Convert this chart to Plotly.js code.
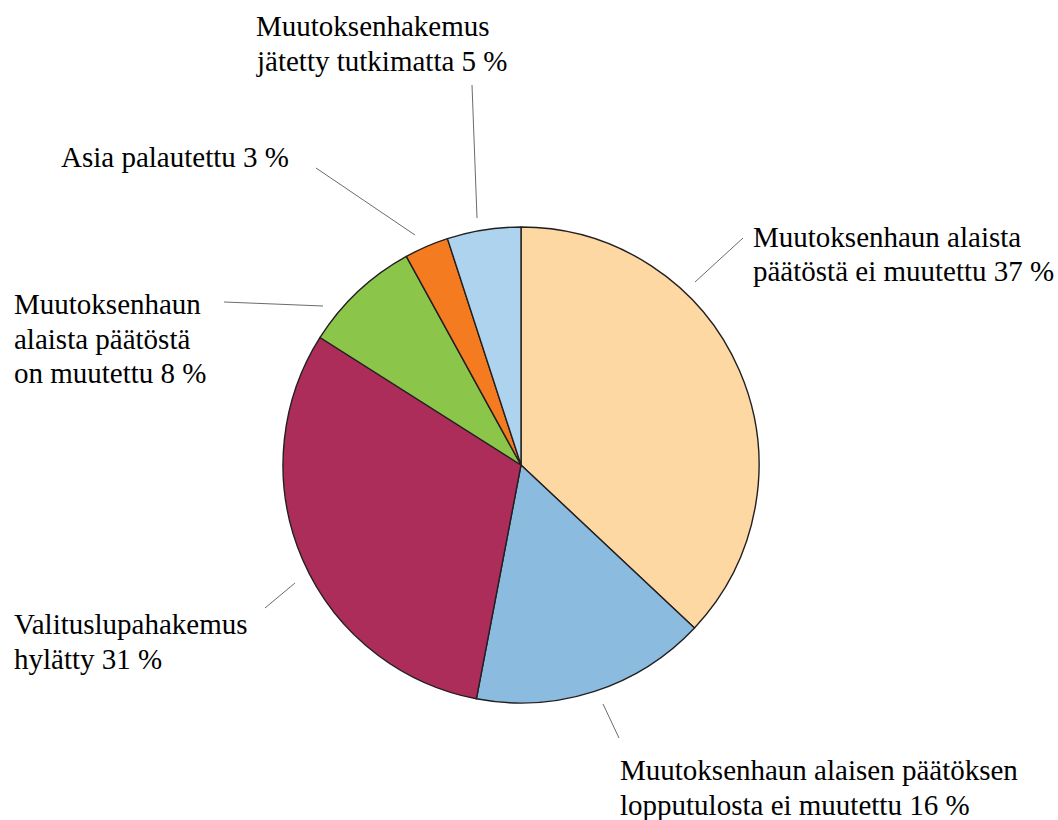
<!DOCTYPE html>
<html>
<head>
<meta charset="utf-8">
<script src="https://cdn.plot.ly/plotly-3.0.1.min.js"></script>
<style>
  html, body { margin: 0; padding: 0; background: #ffffff; }
  #chart { width: 1058px; height: 820px; }
</style>
</head>
<body>
<div id="chart"></div>
<script>
// ---- data ----
var categories = [
  "Muutoksenhaun alaista\npäätöstä ei muutettu",
  "Muutoksenhaun alaisen päätöksen\nlopputulosta ei muutettu",
  "Valituslupahakemus\nhylätty",
  "Muutoksenhaun\nalaista päätöstä\non muutettu",
  "Asia palautettu",
  "Muutoksenhakemus\njätetty tutkimatta"
];
var shares = [37, 16, 31, 8, 3, 5];
var sliceColors = ["#FDD8A2", "#8BBCDF", "#AC2D59", "#8BC64B", "#F47B20", "#ADD3EF"];

// ---- layout helpers (pixel positions of labels / leader lines) ----
var W = 1058, H = 820;
var FONT = "Liberation Serif";
var FS = 29;
var LINE_GAP = 34.5;           // baseline-to-baseline distance
var ASC = 27;                  // box top to first baseline
var center = {x: 521, y: 465}, radius = 238;
// label: left x, baseline of first line; leader line: [x0,y0,x1,y1]
var labelPos = [
  {x: 751, base: 246, lead: [695, 282, 743, 238]},
  {x: 618, base: 779, lead: [603, 704, 619, 738]},
  {x: 12,  base: 633, lead: [265, 608, 295, 583]},
  {x: 12,  base: 313, lead: [224, 302, 323, 306]},
  {x: 59,  base: 166, lead: [316, 168, 415, 235]},
  {x: 254, base: 35,  lead: [472, 85, 477, 218]}
];

function px(x) { return x / W; }
function py(y) { return 1 - y / H; }

var annotations = [], shapes = [];
categories.forEach(function (c, i) {
  var lines = c.split("\n");
  lines[lines.length - 1] += " " + shares[i] + " %";
  var p = labelPos[i];
  lines.forEach(function (ln, k) {
    annotations.push({
      xref: "paper", yref: "paper",
      x: px(p.x), y: py(p.base + k * LINE_GAP - ASC),
      xanchor: "left", yanchor: "top", align: "left",
      showarrow: false, text: ln,
      font: {family: FONT, size: FS, color: "#000000"}
    });
  });
  shapes.push({
    type: "line", xref: "paper", yref: "paper",
    x0: px(p.lead[0]), y0: py(p.lead[1]), x1: px(p.lead[2]), y1: py(p.lead[3]),
    line: {color: "#6b6b6b", width: 1}
  });
});

var trace = {
  type: "pie",
  labels: categories,
  values: shares,
  sort: false,
  direction: "clockwise",
  rotation: 0,
  textinfo: "none",
  hoverinfo: "label+percent",
  marker: {colors: sliceColors, line: {color: "#231F20", width: 1.4}},
  domain: {
    x: [px(center.x - radius), px(center.x + radius)],
    y: [py(center.y + radius), py(center.y - radius)]
  },
  showlegend: false
};

var layout = {
  width: W, height: H,
  margin: {l: 0, r: 0, t: 0, b: 0},
  paper_bgcolor: "#ffffff",
  plot_bgcolor: "#ffffff",
  showlegend: false,
  font: {family: FONT},
  annotations: annotations,
  shapes: shapes
};

Plotly.newPlot("chart", [trace], layout, {displayModeBar: false, staticPlot: true});
</script>
</body>
</html>
